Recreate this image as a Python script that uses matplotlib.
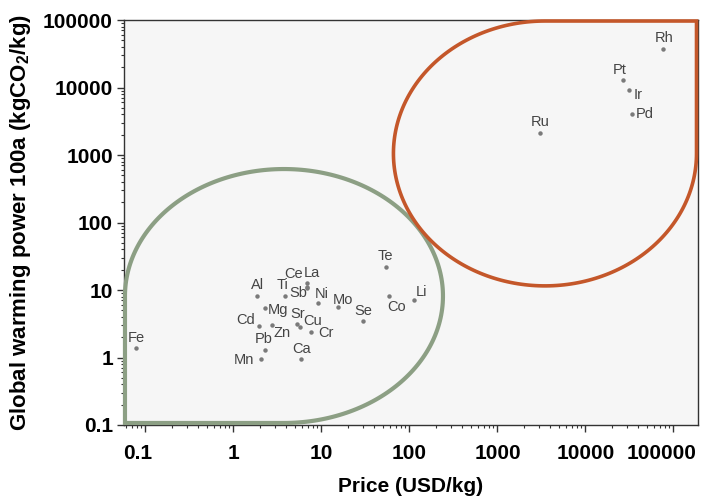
import numpy as np
import matplotlib
matplotlib.use("Agg")
import matplotlib.pyplot as plt
from matplotlib.path import Path
from matplotlib.patches import PathPatch
from matplotlib.transforms import ScaledTranslation
from matplotlib.ticker import FixedLocator, LogLocator, FuncFormatter, NullFormatter

plt.rcParams['font.family'] = ['Liberation Sans', 'DejaVu Sans']
plt.rcParams['mathtext.fontset'] = 'custom'
plt.rcParams['mathtext.rm'] = 'Liberation Sans:bold'
plt.rcParams['mathtext.bf'] = 'Liberation Sans:bold'

# ---------------- data ----------------
elements = ['Fe', 'Al', 'Ti', 'La', 'Ce', 'Sb', 'Ni', 'Mg', 'Sr', 'Cu', 'Cr', 'Zn', 'Cd',
            'Pb', 'Mn', 'Ca', 'Mo', 'Se', 'Te', 'Co', 'Li', 'Rh', 'Pt', 'Ir', 'Pd', 'Ru']
price_usd_kg = [0.079, 1.86, 3.83, 6.88, 6.88, 6.8, 9.1, 2.27, 5.30, 5.77, 7.6, 2.75, 1.94,
                2.26, 2.03, 5.9, 15.5, 29.4, 54.8, 58.2, 113, 76400, 26500, 31000, 34000, 3030]
gwp_kgco2_kg = [1.40, 8.15, 8.15, 12.6, 11.0, 10.6, 6.35, 5.36, 3.10, 2.80, 2.39, 3.05, 2.95,
                1.28, 0.96, 0.96, 5.66, 3.50, 21.6, 8.2, 7.1, 36800, 12900, 9180, 4050, 2140]
tick_values = [0.1, 1, 10, 100, 1000, 10000, 100000]

# label offsets (pixels: dx right, dy up)
label_offsets = {'Fe': (0, 10), 'Al': (0, 11), 'Ti': (-2, 11), 'La': (5, 10), 'Ce': (-14, 13),
                 'Sb': (-8, -5), 'Ni': (4, 9), 'Mg': (13, -2), 'Sr': (0, 10), 'Cu': (12, 6),
                 'Cr': (15, -1), 'Zn': (10, -8), 'Cd': (-13, 6), 'Pb': (-1, 11), 'Mn': (-17, -1),
                 'Ca': (0, 10), 'Mo': (5, 7), 'Se': (1, 10), 'Te': (-1, 11), 'Co': (8, -11),
                 'Li': (7, 8), 'Rh': (1, 11), 'Pt': (-3, 10), 'Ir': (9, -5), 'Pd': (13, 0),
                 'Ru': (0, 11)}

W, H = 701, 498
fig = plt.figure(figsize=(W / 100, H / 100), dpi=100)
fig.patch.set_facecolor('white')
ax = fig.add_axes([124 / W, 1 - 425 / H, 574 / W, 405 / H])
ax.set_facecolor('#f6f6f6')
ax.set_xscale('log')
ax.set_yscale('log')
ax.set_xlim(0.057, 1.9e5)
ax.set_ylim(0.1, 1e5)

# ---------------- regions (decorative outlines, axes-fraction coordinates) ----------------
def region(cx, cy, rx, ry, t0, t1, corner):
    t = np.linspace(t0, t1, 200)
    pts = np.column_stack([cx + rx * np.cos(t), cy + ry * np.sin(t)])
    pts = np.vstack([pts, corner, pts[:1]])
    codes = [Path.MOVETO] + [Path.LINETO] * (len(pts) - 2) + [Path.CLOSEPOLY]
    return Path(pts, codes)

# green: bottom-left corner square
gcx, gcy, grx, gry = 0.2787, 0.3185, 0.2770, 0.3135
green = region(gcx, gcy, grx, gry, np.pi, -np.pi / 2, [gcx - grx, gcy - gry])
ax.add_patch(PathPatch(green, transform=ax.transAxes, fill=False, edgecolor='#8c9f84',
                       lw=3.0, clip_on=False, zorder=3))
# orange: top-right corner square
ocx, ocy, orx, ory = 0.7334, 0.6705, 0.2640, 0.3270
orange = region(ocx, ocy, orx, ory, 0, -1.5 * np.pi, [ocx + orx, ocy + ory])
ax.add_patch(PathPatch(orange, transform=ax.transAxes, fill=False, edgecolor='#c4572a',
                       lw=2.6, clip_on=False, zorder=3))

# ---------------- points ----------------
ax.plot(price_usd_kg, gwp_kgco2_kg, 'o', color='#7a7a7a', ms=3.2, mec='none', zorder=4)
for name, x, y in zip(elements, price_usd_kg, gwp_kgco2_kg):
    dx, dy = label_offsets[name]
    ax.annotate(name, (x, y), xytext=(dx, dy), textcoords='offset pixels',
                ha='center', va='center', fontsize=10.5, color='#444444', zorder=5)

# ---------------- axes styling ----------------
fmt = FuncFormatter(lambda v, p: f'{v:.10g}')
for axis in (ax.xaxis, ax.yaxis):
    axis.set_major_locator(FixedLocator(tick_values))
    axis.set_major_formatter(fmt)
    axis.set_minor_locator(LogLocator(base=10, subs=np.arange(2, 10), numticks=30))
    axis.set_minor_formatter(NullFormatter())

ax.tick_params(which='major', direction='out', length=5, width=1.0, color='#333333',
               labelsize=15)
ax.tick_params(which='minor', direction='out', length=2.5, width=0.8, color='#333333')
ax.tick_params(axis='x', which='major', pad=9)
ax.tick_params(axis='y', which='major', pad=3)
for lbl in ax.get_xticklabels() + ax.get_yticklabels():
    lbl.set_fontweight('bold')
for s in ax.spines.values():
    s.set_color('#333333')
    s.set_linewidth(1.0)

# shift first and last x tick labels as in the reference
xticks = ax.xaxis.get_major_ticks()
xticks[0].label1.set_transform(xticks[0].label1.get_transform()
                               + ScaledTranslation(-8 / 100, 0, fig.dpi_scale_trans))
xticks[-1].label1.set_transform(xticks[-1].label1.get_transform()
                                + ScaledTranslation(-12 / 100, 0, fig.dpi_scale_trans))

ax.set_xlabel('Price (USD/kg)', fontsize=15, fontweight='bold', labelpad=10)
ax.set_ylabel('Global warming power 100a (kgCO$_\\mathbf{2}$/kg)', fontsize=16,
              fontweight='bold', labelpad=7)

fig.savefig('out.png', dpi=100)
